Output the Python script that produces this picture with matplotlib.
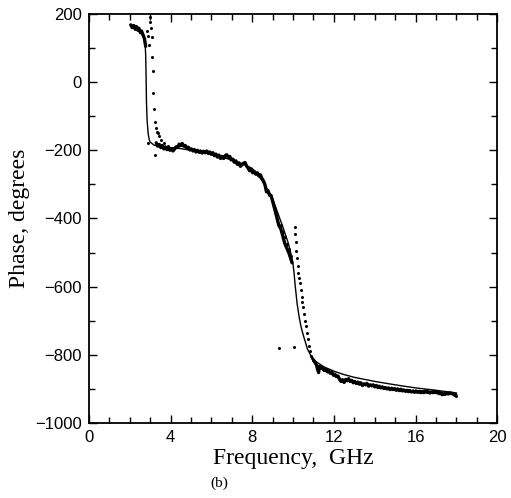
import numpy as np
import matplotlib
matplotlib.use("Agg")
import matplotlib.pyplot as plt
from matplotlib.ticker import MultipleLocator

# ---- data ----
# measured phase, three segments
meas_a_f = [2.05, 2.12, 2.2, 2.27, 2.33, 2.4, 2.45, 2.52, 2.58, 2.65, 2.72, 2.78]
meas_a_p = [168, 160, 166, 155, 163, 152, 158, 145, 150, 138, 128, 105]

meas_b_f = [3.30, 3.37, 3.45, 3.52, 3.60, 3.67, 3.75, 3.82, 3.90, 3.97,
            4.05, 4.12, 4.20, 4.27, 4.35, 4.42, 4.50, 4.57, 4.65, 4.72,
            4.80, 4.87, 4.95, 5.02, 5.10, 5.17, 5.25, 5.32, 5.40, 5.47,
            5.55, 5.62, 5.70, 5.77, 5.85, 5.92, 6.00, 6.07, 6.15, 6.22,
            6.30, 6.37, 6.45, 6.52, 6.60, 6.67, 6.75, 6.82, 6.90, 6.97,
            7.05, 7.12, 7.20, 7.27, 7.35, 7.42, 7.50, 7.57, 7.65, 7.72,
            7.80, 7.87, 7.95, 8.02, 8.10, 8.17, 8.25, 8.32, 8.40, 8.47,
            8.55, 8.62, 8.70, 8.77, 8.85, 8.92, 9.00, 9.10, 9.20, 9.30,
            9.40, 9.50, 9.60, 9.70, 9.80, 9.90, 9.95]
meas_b_p = [-178, -188, -183, -192, -186, -196, -190, -198, -192, -200,
            -195, -202, -196, -190, -192, -182, -186, -180, -188, -186,
            -194, -191, -199, -196, -202, -198, -205, -200, -206, -202,
            -208, -203, -207, -202, -209, -205, -212, -207, -216, -211,
            -220, -214, -224, -218, -224, -216, -213, -220, -218, -228,
            -226, -235, -231, -241, -237, -247, -243, -238, -236, -246,
            -252, -260, -256, -266, -262, -270, -266, -275, -272, -282,
            -290, -300, -322, -318, -332, -332, -350, -372, -395, -420,
            -430, -452, -474, -488, -502, -520, -530]

meas_c_f = [11.00, 11.08, 11.15, 11.20, 11.25, 11.30, 11.38, 11.45, 11.52, 11.60,
            11.68, 11.75, 11.82, 11.90, 11.98, 12.05, 12.12, 12.20, 12.28, 12.35,
            12.42, 12.50, 12.58, 12.65, 12.72, 12.80, 12.88, 12.95, 13.02, 13.10,
            13.18, 13.25, 13.32, 13.40, 13.48, 13.55, 13.62, 13.70, 13.78, 13.85,
            13.92, 14.00, 14.08, 14.15, 14.22, 14.30, 14.38, 14.45, 14.52, 14.60,
            14.68, 14.75, 14.82, 14.90, 14.98, 15.05, 15.12, 15.20, 15.28, 15.35,
            15.42, 15.50, 15.58, 15.65, 15.72, 15.80, 15.88, 15.95, 16.02, 16.10,
            16.18, 16.25, 16.32, 16.40, 16.48, 16.55, 16.62, 16.70, 16.78, 16.85,
            16.92, 17.00, 17.08, 17.15, 17.22, 17.30, 17.38, 17.45, 17.52, 17.60,
            17.68, 17.75, 17.82, 17.90, 17.96, 18.00]
meas_c_p = [-815, -823, -830, -842, -852, -834, -840, -837, -846, -843,
            -850, -847, -854, -851, -860, -857, -864, -862, -872, -878,
            -873, -881, -872, -876, -870, -878, -875, -882, -878, -884,
            -880, -886, -882, -890, -885, -888, -884, -892, -888, -891,
            -888, -894, -890, -896, -892, -897, -894, -899, -896, -900,
            -897, -902, -898, -902, -899, -904, -900, -905, -901, -906,
            -903, -907, -904, -908, -905, -909, -906, -910, -906, -910,
            -907, -911, -908, -911, -906, -910, -908, -912, -909, -911,
            -907, -911, -910, -914, -911, -917, -914, -916, -912, -915,
            -911, -914, -913, -918, -916, -922]

# theoretical curve (solid line)
theory_f = [2.7, 2.75, 2.78, 2.8, 2.82, 2.85, 2.9, 2.95, 3.0, 3.2,
            3.5, 4.0, 4.5, 5.0, 5.5, 6.0, 6.5, 7.0, 7.5, 8.0,
            8.5, 9.0, 9.2, 9.5, 9.77, 9.9, 10.0, 10.05, 10.1, 10.2,
            10.3, 10.4, 10.5, 10.7, 10.9, 11.0, 11.5, 12.0, 12.5, 13.0,
            14.0, 15.0, 16.0, 17.0, 18.0]
theory_p = [138, 118, 80, 20, -60, -111, -150, -168, -176, -185,
            -189, -192, -195, -200, -205, -211, -219, -229, -239, -253,
            -290, -342, -375, -425, -473, -505, -535, -560, -595, -650,
            -690, -720, -742, -782, -806, -815, -835, -848, -858, -866,
            -878, -888, -897, -904, -912]

# dotted series
dot_f = [2.85, 2.9, 2.95, 2.97, 3.0, 3.05, 3.07, 3.1, 3.12, 3.15, 3.2, 3.24, 3.3,
         3.35, 3.4, 3.45, 3.55, 3.7, 3.85, 2.9, 3.24,
         9.4, 9.5, 9.6, 9.7, 9.8, 9.9,
         10.08, 10.1, 10.12, 10.15, 10.18, 10.22, 10.26, 10.3, 10.34, 10.38, 10.42,
         10.46, 10.5, 10.55, 10.6, 10.65, 10.7, 10.75, 10.8, 10.85, 10.9, 10.95, 11.0,
         9.33, 10.05]
dot_p = [150, 135, 110, 175, 190, 160, 133, 75, 33, -31, -80, -116, -135,
         -145, -150, -158, -170, -180, -186, -180, -214,
         -420, -440, -455, -475, -490, -510,
         -425, -445, -470, -495, -515, -540, -560, -575, -590, -610, -630,
         -645, -660, -680, -700, -715, -735, -755, -775, -790, -803, -810, -815,
         -781, -776]

x_ticks = [0, 4, 8, 12, 16, 20]
y_ticks = [200, 0, -200, -400, -600, -800, -1000]

# ---- figure ----
fig = plt.figure(figsize=(5.11, 4.98), dpi=100)
ax = fig.add_axes([0.174, 0.1506, 0.799, 0.8214])

ax.plot(theory_f, theory_p, color="black", lw=1.0)
for sf, sp in [(meas_a_f, meas_a_p), (meas_b_f, meas_b_p), (meas_c_f, meas_c_p)]:
    ax.plot(sf, sp, color="black", lw=2.4, solid_joinstyle="round",
            solid_capstyle="round")
ax.plot(dot_f, dot_p, linestyle="none", marker="o", ms=1.2, color="black")

ax.set_xlim(0, 20)
ax.set_ylim(-1000, 200)
ax.set_xticks(x_ticks)
ax.set_yticks(y_ticks)
ax.xaxis.set_minor_locator(MultipleLocator(1))
ax.yaxis.set_minor_locator(MultipleLocator(100))
ax.tick_params(which="both", direction="in", top=True, right=True, width=1.0)
ax.tick_params(which="major", length=6)
ax.tick_params(which="minor", length=4)
for lab in ax.get_xticklabels() + ax.get_yticklabels():
    lab.set_fontfamily("Liberation Sans")
    lab.set_fontsize(12)
ax.tick_params(axis="x", pad=5)
ax.tick_params(axis="y", pad=5)
for s in ax.spines.values():
    s.set_linewidth(1.3)

ax.set_xlabel("Frequency,  GHz", family="Liberation Serif", fontsize=17, labelpad=2)
ax.set_ylabel("Phase, degrees", family="Liberation Serif", fontsize=17, labelpad=4)
fig.text(0.43, 0.022, "(b)", family="Liberation Serif", fontsize=11, ha="center")

fig.savefig("out.png", dpi=100)
